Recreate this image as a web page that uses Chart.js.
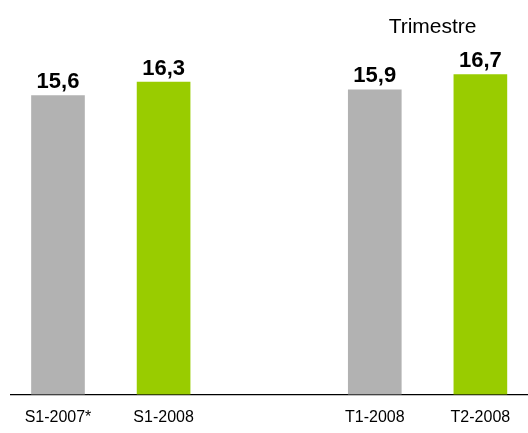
<!DOCTYPE html>
<html>
<head>
<meta charset="utf-8">
<script src="https://cdn.jsdelivr.net/npm/chart.js@4.4.1/dist/chart.umd.min.js"></script>
<style>
  html, body { margin: 0; padding: 0; background: #ffffff; overflow: hidden; }
  #wrap { width: 528px; height: 433px; position: relative; }
</style>
</head>
<body>
<div id="wrap"><canvas id="c"></canvas></div>
<script>
// ---- data ----
const categories = ['S1-2007*', 'S1-2008', '', 'T1-2008', 'T2-2008'];
const values = [15.6, 16.3, null, 15.9, 16.7];
const barColors = ['#b2b2b2', '#99cc00', null, '#b2b2b2', '#99cc00'];
const groupTitle = 'Trimestre';

const FONT = "'Liberation Sans', Arial, sans-serif";

const points = [];
const colors = [];
categories.forEach((c, i) => {
  if (values[i] !== null) {
    points.push({ x: i, y: values[i] });
    colors.push(barColors[i]);
  }
});

const valueLabels = {
  id: 'valueLabels',
  afterDatasetsDraw(chart) {
    const ctx = chart.ctx;
    ctx.save();
    ctx.font = 'bold 22px ' + FONT;
    ctx.fillStyle = '#000000';
    ctx.textAlign = 'center';
    ctx.textBaseline = 'alphabetic';
    chart.getDatasetMeta(0).data.forEach((el, i) => {
      const v = points[i].y;
      ctx.fillText(v.toFixed(1).replace('.', ','), el.x, el.y - 7.5);
    });
    // group title above the quarterly bars
    const xs = chart.scales.x;
    const cx = (xs.getPixelForValue(3) + xs.getPixelForValue(4)) / 2 + 5;
    ctx.font = '21px ' + FONT;
    ctx.fillText(groupTitle, cx, 33);
    ctx.restore();
  }
};

new Chart(document.getElementById('c'), {
  type: 'bar',
  data: {
    datasets: [{
      data: points,
      backgroundColor: colors,
      borderWidth: 0,
      barThickness: 53
    }]
  },
  options: {
    responsive: true,
    maintainAspectRatio: false,
    animation: false,
    layout: { padding: { left: 11, right: 0, top: 0, bottom: 0 } },
    plugins: { legend: { display: false }, tooltip: { enabled: false }, title: { display: false } },
    scales: {
      x: {
        type: 'linear',
        offset: false,
        min: -0.445,
        max: 4.451,
        grid: { display: false, drawTicks: false, offset: false },
        border: { display: true, color: '#000000', width: 1.2 },
        afterFit(scale) { scale.height = 38.5; },
        afterBuildTicks(scale) {
          scale.ticks = categories
            .map((c, i) => ({ c, i }))
            .filter(o => o.c !== '')
            .map(o => ({ value: o.i }));
        },
        ticks: {
          autoSkip: false,
          maxRotation: 0,
          minRotation: 0,
          padding: 13,
          color: '#000000',
          font: { family: FONT, size: 16 },
          callback: (v) => categories[v]
        }
      },
      y: {
        display: false,
        min: 0,
        max: 20.59
      }
    }
  },
  plugins: [valueLabels]
});
</script>
</body>
</html>
